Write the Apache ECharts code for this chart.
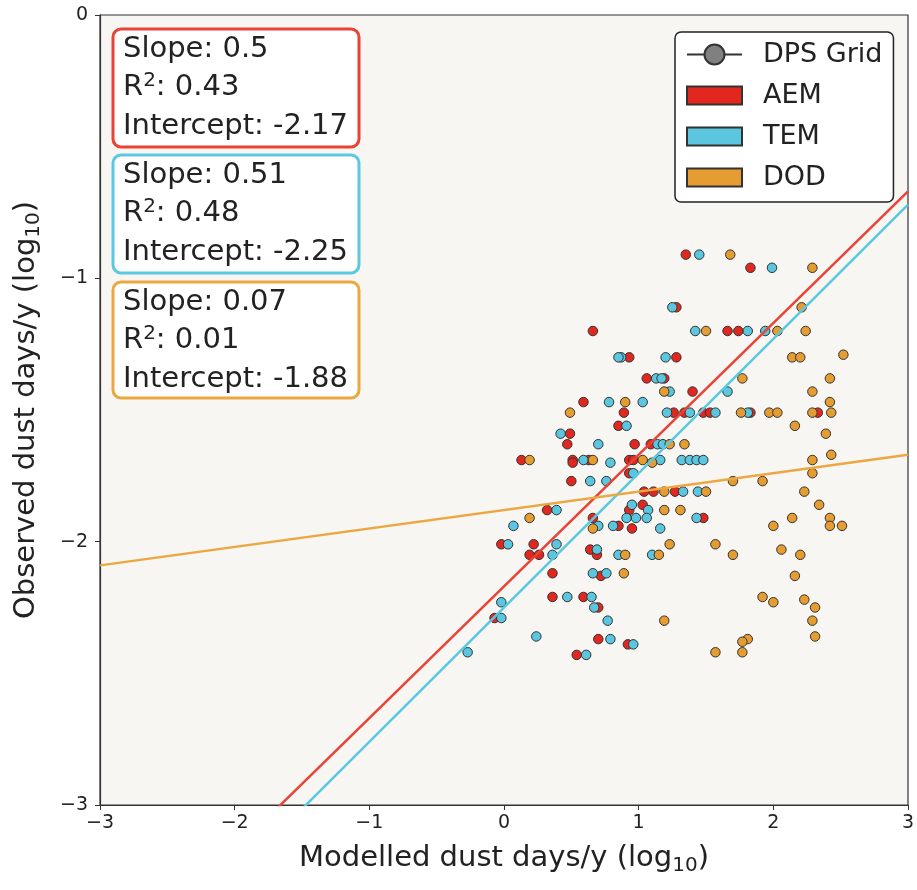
<!DOCTYPE html>
<html>
<head>
<meta charset="utf-8">
<script src="https://cdn.jsdelivr.net/npm/echarts@6/dist/echarts.min.js"></script>
<style>
  html, body { margin: 0; padding: 0; background: #fff; }
  #chart { width: 917px; height: 890px; }
</style>
</head>
<body>
<div id="chart"></div>
<script>
// scatter points [modelled, observed] (log10)
const aemPoints = [
  [1.35, -0.91], [1.83, -0.96], [1.28, -1.11], [0.66, -1.20], [1.66, -1.20], [1.74, -1.20],
  [0.93, -1.30], [1.28, -1.30], [1.06, -1.38], [1.19, -1.38], [1.40, -1.43], [0.59, -1.47],
  [0.89, -1.51], [1.26, -1.51], [1.34, -1.51], [1.48, -1.51], [1.53, -1.51], [1.83, -1.51], [2.33, -1.51],
  [0.85, -1.56], [0.49, -1.59], [0.47, -1.63], [0.97, -1.63], [1.09, -1.63],
  [0.13, -1.69], [0.51, -1.69], [0.51, -1.70], [0.63, -1.69], [0.93, -1.69], [0.96, -1.69],
  [0.93, -1.74], [0.50, -1.77], [1.04, -1.81], [1.11, -1.81], [1.27, -1.81],
  [0.32, -1.88], [1.03, -1.86], [0.93, -1.88], [0.66, -1.91], [0.85, -1.94], [0.95, -1.95], [1.48, -1.91],
  [-0.02, -2.01], [0.22, -2.01], [0.19, -2.05], [0.26, -2.05], [0.64, -2.03], [0.69, -2.05],
  [0.36, -2.12], [0.72, -2.13], [0.36, -2.21], [0.59, -2.21], [0.70, -2.25], [-0.07, -2.29],
  [0.70, -2.37], [0.92, -2.39], [0.54, -2.43]
];
const temPoints = [
  [1.45, -0.91], [1.99, -0.96], [1.25, -1.11], [1.42, -1.20], [1.81, -1.20], [1.94, -1.20],
  [0.87, -1.30], [0.85, -1.30], [1.20, -1.30], [1.13, -1.38], [1.17, -1.38], [1.23, -1.43], [1.66, -1.43],
  [0.78, -1.47], [1.03, -1.47], [1.21, -1.51], [1.38, -1.51], [1.57, -1.51], [1.81, -1.51],
  [0.91, -1.56], [0.42, -1.59], [0.70, -1.63], [1.14, -1.63], [1.18, -1.63],
  [0.59, -1.69], [0.79, -1.70], [1.16, -1.69], [1.32, -1.69], [1.38, -1.69], [1.43, -1.69], [1.48, -1.69],
  [0.96, -1.74], [0.64, -1.77], [0.76, -1.77], [1.33, -1.81], [1.44, -1.81],
  [0.39, -1.88], [0.95, -1.86], [1.07, -1.88],
  [0.07, -1.94], [0.70, -1.94], [0.81, -1.94], [0.91, -1.91], [0.98, -1.91], [1.06, -1.91], [1.16, -1.95], [1.43, -1.91],
  [0.03, -2.01], [0.39, -2.01], [0.36, -2.05], [0.69, -2.03], [0.85, -2.05], [1.10, -2.05],
  [0.66, -2.12], [0.76, -2.12], [0.47, -2.21], [0.65, -2.21], [0.67, -2.25],
  [-0.02, -2.23], [-0.02, -2.29], [0.77, -2.30], [0.24, -2.36], [0.79, -2.37], [0.96, -2.39],
  [-0.27, -2.42], [0.61, -2.43]
];
const dodPoints = [
  [1.68, -0.91], [2.29, -0.96], [2.21, -1.11], [1.50, -1.20], [2.03, -1.20], [2.24, -1.20],
  [2.14, -1.30], [2.20, -1.30], [2.52, -1.29], [1.77, -1.38], [2.42, -1.38], [1.19, -1.43], [2.29, -1.43],
  [0.90, -1.47], [2.42, -1.47], [0.49, -1.51], [1.76, -1.51], [1.97, -1.51], [2.03, -1.51], [2.29, -1.51], [2.43, -1.51],
  [2.16, -1.56], [2.39, -1.59], [1.23, -1.63], [1.34, -1.63], [2.43, -1.67],
  [0.19, -1.69], [0.66, -1.69], [1.03, -1.69], [1.10, -1.70], [2.29, -1.69], [2.29, -1.74],
  [1.70, -1.77], [1.92, -1.77], [1.19, -1.81], [1.50, -1.81], [2.23, -1.81],
  [0.19, -1.91], [0.66, -1.95], [1.19, -1.88], [1.31, -1.88], [2.34, -1.86],
  [2.14, -1.91], [2.00, -1.94], [2.42, -1.91], [2.42, -1.94], [2.51, -1.94],
  [1.23, -2.01], [1.57, -2.01], [0.90, -2.05], [1.15, -2.05], [1.70, -2.05], [2.06, -2.03], [2.20, -2.05],
  [0.89, -2.12], [2.16, -2.13], [1.92, -2.21], [2.00, -2.23], [2.23, -2.22], [2.31, -2.25],
  [1.19, -2.30], [2.29, -2.30], [2.31, -2.36], [1.81, -2.37], [1.77, -2.38], [1.57, -2.42], [1.77, -2.42]
];

// regression fits
const fitNames = ['AEM', 'TEM', 'DOD'];
const slopes = [0.5, 0.51, 0.07];
const r2s = [0.43, 0.48, 0.01];
const intercepts = [-2.17, -2.25, -1.88];
const xTicks = [-3, -2, -1, 0, 1, 2, 3];
const yTicks = [-3, -2, -1, 0];

const fillColors = ['#e2271f', '#5ac6df', '#e59c30'];
const lineColors = ['#ea4236', '#5ac8e0', '#eba741'];
const FONT = 'DejaVu Sans';

const chart = echarts.init(document.getElementById('chart'));

const minusFmt = v => (v < 0 ? '\u2212' + Math.abs(v) : String(v));

// axis title with a real subscript
const nameStyle = {
  fontSize: 29, color: '#222', fontFamily: FONT, lineHeight: 36,
  rich: {
    sub: { fontSize: 20, color: '#222', fontFamily: FONT, verticalAlign: 'bottom', lineHeight: 36 },
  },
};

const pointSeries = [aemPoints, temPoints, dodPoints].map((pts, i) => ({
  name: fitNames[i],
  type: 'scatter',
  data: pts,
  symbol: 'circle',
  symbolSize: 9.5,
  itemStyle: { color: fillColors[i], borderColor: '#333', borderWidth: 1, opacity: 1 },
  z: 3,
}));

const fitSeries = fitNames.map((name, i) => ({
  name: name + ' fit',
  type: 'line',
  data: [xTicks[0], xTicks[xTicks.length - 1]].map(x => [x, slopes[i] * x + intercepts[i]]),
  showSymbol: false,
  symbol: 'none',
  clip: true,
  lineStyle: { color: lineColors[i], width: 2.5 },
  z: 4,
}));

const boxTops = [29, 155, 282];
const boxHeights = [118, 118, 116];
const statBoxes = [];
fitNames.forEach((name, i) => {
  statBoxes.push({
    type: 'rect',
    shape: { x: 113, y: boxTops[i], width: 246, height: boxHeights[i], r: 8 },
    style: { fill: '#fff', stroke: lineColors[i], lineWidth: 3 },
    z: 10,
  });
  statBoxes.push({
    type: 'text',
    x: 123,
    y: boxTops[i] + 1,
    style: {
      text: 'Slope: ' + slopes[i] + '\nR{sup|2}: ' + r2s[i] + '\nIntercept: ' + intercepts[i],
      font: '29px "' + FONT + '"',
      fill: '#222',
      lineHeight: 38.5,
      verticalAlign: 'top',
      rich: {
        sup: { font: '20px "' + FONT + '"', fill: '#222', verticalAlign: 'top', lineHeight: 38.5, padding: [2, 0, 0, 0] },
      },
    },
    z: 11,
  });
});

const option = {
  animation: false,
  backgroundColor: '#fff',
  textStyle: { fontFamily: FONT },
  grid: {
    left: 100, right: 9, top: 15, bottom: 85,
    outerBoundsMode: 'none',
    containLabel: false,
    show: true, backgroundColor: '#f7f6f2', borderColor: '#333', borderWidth: 1.2,
  },
  legend: {
    left: 675,
    top: 32,
    orient: 'vertical',
    backgroundColor: '#fff',
    borderColor: '#222',
    borderWidth: 1.5,
    borderRadius: 6,
    padding: [9, 11, 11, 11],
    itemWidth: 55,
    itemHeight: 25,
    itemGap: 14,
    textStyle: { fontSize: 27, color: '#222', fontFamily: FONT, padding: [0, 0, 0, 16] },
    data: [
      { name: 'DPS Grid' },
      { name: 'AEM', icon: 'path://M0,0H55V18H0Z' },
      { name: 'TEM', icon: 'path://M0,0H55V18H0Z' },
      { name: 'DOD', icon: 'path://M0,0H55V18H0Z' },
    ],
  },
  xAxis: {
    type: 'value',
    min: xTicks[0], max: xTicks[xTicks.length - 1], interval: 1,
    name: 'Modelled dust days/y (log{sub|10})',
    nameLocation: 'middle',
    nameGap: 35,
    nameTextStyle: nameStyle,
    axisLine: { onZero: false, lineStyle: { color: '#333', width: 1.2 } },
    axisTick: { length: 5, lineStyle: { color: '#333' } },
    axisLabel: { fontSize: 19, color: '#222', margin: 9, formatter: minusFmt },
    splitLine: { show: false },
  },
  yAxis: {
    type: 'value',
    min: yTicks[0], max: yTicks[yTicks.length - 1], interval: 1,
    name: 'Observed dust days/y (log{sub|10})',
    nameLocation: 'middle',
    nameGap: 56,
    nameTextStyle: nameStyle,
    axisLine: { onZero: false, lineStyle: { color: '#333', width: 1.2 } },
    axisTick: { length: 5, lineStyle: { color: '#333' } },
    axisLabel: { fontSize: 19, color: '#222', margin: 12, formatter: minusFmt },
    splitLine: { show: false },
  },
  series: [
    {
      name: 'DPS Grid',
      type: 'line',
      data: [],
      symbol: 'circle',
      itemStyle: { color: '#808080', borderColor: '#333', borderWidth: 1.5 },
      lineStyle: { color: '#333', width: 2 },
    },
    ...pointSeries,
    ...fitSeries,
  ],
  graphic: statBoxes,
};

chart.setOption(option);
</script>
</body>
</html>
